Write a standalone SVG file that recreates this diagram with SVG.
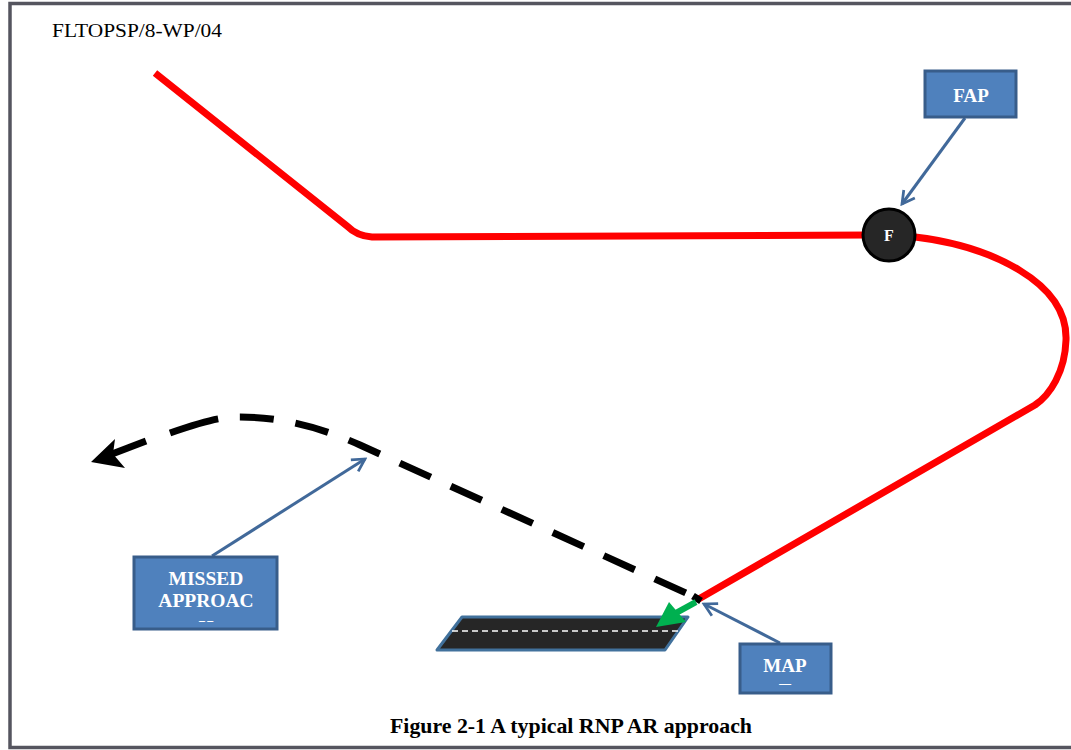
<svg xmlns="http://www.w3.org/2000/svg" width="1071" height="750" viewBox="0 0 1071 750">
<style>
.box{fill:#4F81BD;stroke:#385D8A;stroke-width:3}
.lbl{font-family:"Liberation Serif",serif;font-weight:bold;fill:#fff;text-anchor:middle}
.call{fill:none;stroke:#41699A;stroke-width:3}
.red{fill:none;stroke:#FF0000;stroke-width:7;stroke-linejoin:round}
</style>
<defs>
<marker id="open" viewBox="0 0 12 12" refX="10" refY="6" markerWidth="5.5" markerHeight="5.5" orient="auto" markerUnits="strokeWidth">
<path d="M1 1 L10 6 L1 11" fill="none" stroke="#41699A" stroke-width="2"/>
</marker>
<clipPath id="cm"><rect x="135" y="558" width="141" height="64"/></clipPath>
<clipPath id="cp"><rect x="741" y="645" width="89" height="40"/></clipPath>
</defs>
<rect x="10" y="3.5" width="1080" height="744" fill="#fff" stroke="#55555F" stroke-width="3.5"/>
<text x="52" y="37" font-family="Liberation Serif,serif" font-size="19" textLength="170" lengthAdjust="spacingAndGlyphs" fill="#000">FLTOPSP/8-WP/04</text>
<g id="runway">
<path d="M462 617 L688 617 L665 650 L437 650 Z" fill="#262626" stroke="#41719C" stroke-width="3" stroke-linejoin="round"/>
<path d="M452 631 L678 631" stroke="#fff" stroke-width="1.5" stroke-dasharray="6 4"/>
</g>
<g id="connectors">
<path class="red" d="M155 73 L347 226 Q357 236 372 237 L870 235"/>
<path class="red" d="M915 237 C990 246 1068 282 1066 340 C1065 372 1050 395 1035 405 L697 600"/>
<path d="M170 433 C205 421 220 417 240 417 C280 417 320 427 360 445 L697 598" fill="none" stroke="#000" stroke-width="7" stroke-dasharray="50 22 34 22 34 22 34 22 34 22 34 22 34 22 34 22 34 22 34 22 34 22 34 22"/>
<path d="M146 441 L112 454" fill="none" stroke="#000" stroke-width="7"/>
<path d="M91 462 L115 439 L113 454 L125 468 Z" fill="#000"/>
<path d="M693 596 L701 601" stroke="#000" stroke-width="7"/>
<path d="M696 602 L676 613" stroke="#00B050" stroke-width="6"/>
<path d="M656 627 L669 602 L686 622 Z" fill="#00B050"/>
<path class="call" d="M965 118 L902 204" marker-end="url(#open)"/>
<path class="call" d="M212 556 L365 459" marker-end="url(#open)"/>
<path class="call" d="M780 643 L704 604" marker-end="url(#open)"/>
</g>
<g id="F">
<circle cx="889" cy="235" r="26" fill="#262626" stroke="#000" stroke-width="3"/>
<text class="lbl" x="889" y="241" font-size="16">F</text>
</g>
<g id="FAP">
<rect class="box" x="925" y="71" width="91" height="46"/>
<text class="lbl" x="971" y="102" font-size="19">FAP</text>
</g>
<g id="MISSED">
<rect class="box" x="134" y="557" width="143" height="72"/>
<g clip-path="url(#cm)">
<text class="lbl" x="206" y="585" font-size="19.5">MISSED</text>
<text class="lbl" x="206" y="607" font-size="19.5">APPROAC</text>
<text class="lbl" x="206" y="634" font-size="19.5">H</text>
</g>
</g>
<g id="MAP">
<rect class="box" x="740" y="644" width="91" height="49"/>
<g clip-path="url(#cp)">
<text class="lbl" x="785" y="672" font-size="19">MAP</text>
<text class="lbl" x="785" y="697" font-size="19">T</text>
</g>
</g>
<text x="571" y="733" font-family="Liberation Serif,serif" font-size="21" font-weight="bold" text-anchor="middle" textLength="362" lengthAdjust="spacingAndGlyphs" fill="#000">Figure 2-1 A typical RNP AR approach</text>
</svg>
